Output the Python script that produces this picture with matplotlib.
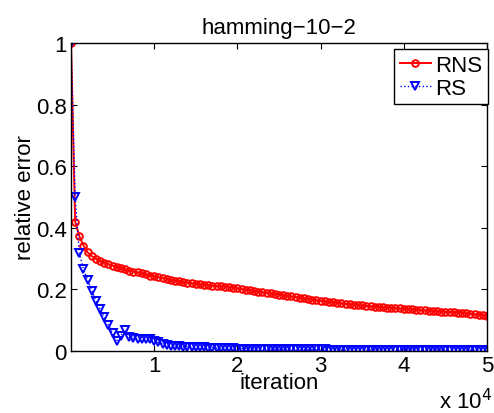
import numpy as np
import matplotlib
matplotlib.use("Agg")
import matplotlib.pyplot as plt

plt.rcParams['font.family'] = ['Liberation Sans', 'DejaVu Sans']

iterations = [500 * i for i in range(101)]

rns = [1.0, 0.42, 0.373, 0.342, 0.320, 0.308, 0.300, 0.293, 0.287, 0.282,
       0.277, 0.273, 0.269, 0.265, 0.261, 0.258, 0.255, 0.252, 0.249, 0.245,
       0.242, 0.240, 0.237, 0.235, 0.230, 0.228, 0.226, 0.224, 0.222, 0.220,
       0.218, 0.216, 0.215, 0.213, 0.212, 0.211, 0.210, 0.209, 0.208, 0.206,
       0.204, 0.201, 0.199, 0.197, 0.195, 0.193, 0.191, 0.189, 0.187, 0.185,
       0.183, 0.181, 0.179, 0.177, 0.175, 0.173, 0.171, 0.169, 0.167, 0.165,
       0.163, 0.161, 0.159, 0.158, 0.156, 0.155, 0.153, 0.152, 0.150, 0.149,
       0.148, 0.146, 0.145, 0.144, 0.143, 0.142, 0.141, 0.140, 0.139, 0.138,
       0.137, 0.136, 0.135, 0.134, 0.133, 0.132, 0.131, 0.130, 0.129, 0.128,
       0.127, 0.127, 0.126, 0.125, 0.124, 0.122, 0.121, 0.119, 0.118, 0.116,
       0.115]

rs = [1.0, 0.50, 0.317, 0.266, 0.230, 0.196, 0.163, 0.136, 0.109, 0.084,
      0.058, 0.034, 0.050, 0.069, 0.044, 0.041, 0.040, 0.040, 0.040, 0.038,
      0.034, 0.028, 0.023, 0.019, 0.017, 0.016, 0.015, 0.014, 0.014, 0.013,
      0.013, 0.012, 0.012, 0.011, 0.011, 0.010, 0.010, 0.009, 0.009, 0.009,
      0.008, 0.008, 0.008, 0.007, 0.007, 0.007, 0.007, 0.006, 0.006, 0.006,
      0.006, 0.006, 0.006, 0.005, 0.005, 0.005, 0.005, 0.005, 0.005, 0.005,
      0.005, 0.005, 0.004, 0.004, 0.004, 0.004, 0.004, 0.004, 0.004, 0.004,
      0.004, 0.004, 0.004, 0.004, 0.004, 0.004, 0.004, 0.004, 0.004, 0.004,
      0.004, 0.004, 0.003, 0.003, 0.003, 0.003, 0.003, 0.003, 0.003, 0.003,
      0.003, 0.003, 0.003, 0.003, 0.003, 0.003, 0.003, 0.003, 0.003, 0.003,
      0.003]

xticks = [10000, 20000, 30000, 40000, 50000]
xticklabels = ['1', '2', '3', '4', '5']
yticks = [0, 0.2, 0.4, 0.6, 0.8, 1.0]
yticklabels = ['0', '0.2', '0.4', '0.6', '0.8', '1']

FS = 16

fig = plt.figure(figsize=(4.94, 4.14), dpi=100)
ax = fig.add_axes([71/494, 1 - 352/414, (487 - 71)/494, (352 - 44)/414])

ax.plot(iterations, rns, color='red', linestyle='-', linewidth=1.4,
        marker='o', markersize=4.8, markerfacecolor='none',
        markeredgecolor='red', markeredgewidth=1.4, label='RNS')
ax.plot(iterations, rs, color='blue', linestyle=':', linewidth=1.0,
        marker='v', markersize=5.4, markerfacecolor='none',
        markeredgecolor='blue', markeredgewidth=1.4, label='RS')

ax.set_xlim(0, 50000)
ax.set_ylim(0, 1)
ax.set_xticks(xticks)
ax.set_xticklabels(xticklabels)
ax.set_yticks(yticks)
ax.set_yticklabels(yticklabels)
ax.tick_params(direction='in', top=True, right=True, labelsize=FS,
               length=4, width=0.8, pad=3)
for sp in ax.spines.values():
    sp.set_linewidth(1.0)

ax.set_xlabel('iteration', fontsize=FS, labelpad=-3)
ax.set_ylabel('relative error', fontsize=FS, labelpad=0)
ax.set_title('hamming\u221210\u22122', fontsize=FS, pad=7)

fig.text(466/494, 1 - 402/414, 'x 10$^{4}$', fontsize=FS, ha='center', va='center')

leg = ax.legend(loc='upper right', bbox_to_anchor=(488/494, 1 - 50/414),
                bbox_transform=fig.transFigure, fontsize=FS, frameon=True,
                fancybox=False, edgecolor='black', borderaxespad=0,
                handlelength=1.4, handletextpad=0.2, borderpad=0.25,
                labelspacing=0.1, framealpha=1)
leg.get_frame().set_linewidth(1.0)

fig.savefig('out.png', dpi=100)
